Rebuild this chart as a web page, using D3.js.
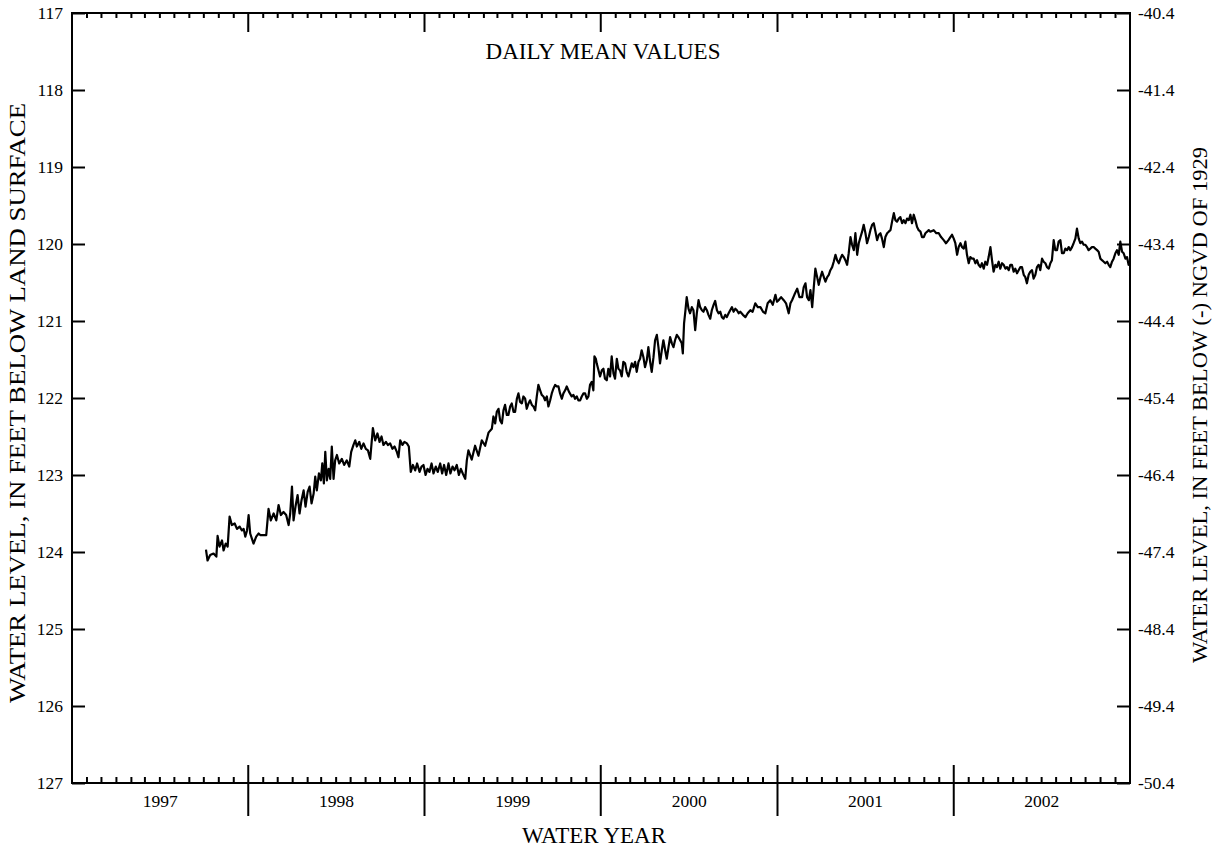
<!DOCTYPE html>
<html>
<head>
<meta charset="utf-8">
<script src="https://cdn.jsdelivr.net/npm/d3@7"></script>
<style>
  html, body { margin: 0; padding: 0; background: #fff; }
  svg { display: block; }
  svg text { font-family: "Liberation Serif", "Times New Roman", Times, serif; fill: #000; }
</style>
</head>
<body>
<svg id="chart" width="1217" height="850"></svg>
<script>
// Depth-to-water ticks (feet below land surface) and the matching altitude labels
const depthTicks = [117, 118, 119, 120, 121, 122, 123, 124, 125, 126, 127];
const altitudeTickLabels = ["-40.4", "-41.4", "-42.4", "-43.4", "-44.4", "-45.4",
                            "-46.4", "-47.4", "-48.4", "-49.4", "-50.4"];
const waterYears = ["1997", "1998", "1999", "2000", "2001", "2002"];

// Daily mean water levels, [decimal year, feet below land surface], by water year
const wy1997 = [[1997.508,123.97],[1997.517,124.11],[1997.532,124.04],[1997.551,124.02],[1997.567,124.06],[1997.574,123.79],[1997.585,123.93],[1997.599,123.85],[1997.608,123.98],[1997.620,123.89],[1997.631,123.93],[1997.642,123.54],[1997.655,123.65],[1997.671,123.63],[1997.684,123.70],[1997.699,123.67],[1997.712,123.72],[1997.722,123.70],[1997.731,123.80],[1997.741,123.72]];

const wy1998 = [[1997.750,123.52],[1997.759,123.76],[1997.769,123.83],[1997.778,123.89],[1997.793,123.80],[1997.807,123.76],[1997.816,123.78],[1997.850,123.78],[1997.863,123.44],[1997.876,123.59],[1997.892,123.50],[1997.907,123.59],[1997.920,123.39],[1997.933,123.52],[1997.948,123.48],[1997.963,123.52],[1997.977,123.65],[1997.986,123.50],[1997.996,123.15],[1998.005,123.59],[1998.016,123.41],[1998.028,123.26],[1998.039,123.50],[1998.050,123.33],[1998.062,123.20],[1998.073,123.41],[1998.085,123.22],[1998.096,123.15],[1998.107,123.37],[1998.119,123.24],[1998.128,123.02],[1998.137,123.20],[1998.149,122.98],[1998.160,123.07],[1998.168,122.85],[1998.177,123.11],[1998.185,122.70],[1998.194,123.07],[1998.204,122.92],[1998.213,123.05],[1998.222,122.63],[1998.232,123.05],[1998.241,122.81],[1998.251,122.74],[1998.264,122.85],[1998.279,122.79],[1998.292,122.87],[1998.307,122.81],[1998.321,122.89],[1998.332,122.70],[1998.345,122.61],[1998.355,122.55],[1998.364,122.63],[1998.378,122.57],[1998.389,122.66],[1998.402,122.59],[1998.415,122.66],[1998.427,122.68],[1998.440,122.79],[1998.455,122.39],[1998.468,122.55],[1998.481,122.46],[1998.493,122.57],[1998.504,122.50],[1998.515,122.61],[1998.529,122.57],[1998.540,122.61],[1998.553,122.59],[1998.566,122.66],[1998.578,122.63],[1998.591,122.70],[1998.600,122.77],[1998.610,122.55],[1998.623,122.61],[1998.634,122.57],[1998.648,122.59],[1998.659,122.63],[1998.670,122.96],[1998.682,122.87],[1998.695,122.94],[1998.706,122.85],[1998.720,122.96],[1998.731,122.89],[1998.742,122.87]];

const wy1999 = [[1998.754,123.00],[1998.765,122.92],[1998.776,122.96],[1998.788,122.85],[1998.799,122.98],[1998.812,122.89],[1998.823,122.96],[1998.837,122.85],[1998.848,122.98],[1998.859,122.87],[1998.871,123.00],[1998.884,122.85],[1998.895,122.98],[1998.907,122.89],[1998.918,122.94],[1998.931,122.87],[1998.943,123.00],[1998.954,122.92],[1998.965,122.98],[1998.979,123.05],[1998.988,122.81],[1998.997,122.68],[1999.016,122.80],[1999.035,122.62],[1999.054,122.75],[1999.073,122.55],[1999.092,122.62],[1999.111,122.45],[1999.130,122.40],[1999.139,122.24],[1999.149,122.33],[1999.158,122.18],[1999.168,122.14],[1999.177,122.29],[1999.187,122.33],[1999.196,122.16],[1999.205,122.09],[1999.215,122.22],[1999.224,122.22],[1999.234,122.11],[1999.243,122.07],[1999.253,122.18],[1999.262,122.18],[1999.272,122.01],[1999.281,121.94],[1999.290,122.05],[1999.300,122.07],[1999.309,121.98],[1999.319,122.01],[1999.328,122.14],[1999.338,122.07],[1999.347,122.03],[1999.357,122.09],[1999.366,122.11],[1999.376,122.16],[1999.385,121.98],[1999.394,121.83],[1999.404,121.90],[1999.413,121.96],[1999.423,121.98],[1999.432,122.03],[1999.442,121.98],[1999.451,122.11],[1999.461,122.03],[1999.470,121.94],[1999.479,121.88],[1999.489,121.83],[1999.498,121.85],[1999.508,121.85],[1999.517,121.94],[1999.527,122.01],[1999.536,121.94],[1999.546,121.90],[1999.555,121.85],[1999.568,121.92],[1999.583,121.98],[1999.593,121.96],[1999.602,122.01],[1999.612,121.98],[1999.621,122.03],[1999.631,122.03],[1999.640,121.98],[1999.650,121.94],[1999.659,121.94],[1999.669,122.01],[1999.678,121.98],[1999.687,121.83],[1999.697,121.79],[1999.706,121.90],[1999.712,121.46],[1999.720,121.49],[1999.725,121.55],[1999.735,121.64],[1999.744,121.72]];

const wy2000 = [[1999.754,121.64],[1999.763,121.62],[1999.772,121.75],[1999.782,121.77],[1999.791,121.62],[1999.801,121.72],[1999.810,121.46],[1999.820,121.68],[1999.829,121.75],[1999.839,121.49],[1999.848,121.62],[1999.857,121.64],[1999.867,121.72],[1999.876,121.53],[1999.886,121.55],[1999.895,121.66],[1999.905,121.72],[1999.914,121.64],[1999.924,121.55],[1999.933,121.60],[1999.943,121.53],[1999.952,121.66],[1999.962,121.53],[1999.971,121.49],[1999.980,121.38],[1999.990,121.47],[1999.999,121.60],[2000.009,121.51],[2000.018,121.34],[2000.028,121.53],[2000.037,121.66],[2000.047,121.47],[2000.056,121.25],[2000.066,121.18],[2000.075,121.34],[2000.084,121.55],[2000.094,121.38],[2000.103,121.25],[2000.113,121.38],[2000.122,121.49],[2000.132,121.34],[2000.141,121.21],[2000.151,121.29],[2000.160,121.34],[2000.169,121.25],[2000.179,121.18],[2000.188,121.21],[2000.198,121.25],[2000.207,121.29],[2000.213,121.42],[2000.220,121.03],[2000.228,120.86],[2000.235,120.69],[2000.245,120.84],[2000.254,120.90],[2000.264,120.82],[2000.273,120.86],[2000.283,121.12],[2000.292,120.90],[2000.302,120.73],[2000.311,120.82],[2000.321,120.86],[2000.330,120.88],[2000.339,120.82],[2000.349,120.86],[2000.358,120.92],[2000.368,120.97],[2000.377,120.86],[2000.387,120.79],[2000.396,120.74],[2000.406,120.86],[2000.415,120.90],[2000.425,120.88],[2000.434,120.95],[2000.443,120.97],[2000.453,120.92],[2000.462,120.95],[2000.472,120.90],[2000.481,120.86],[2000.491,120.82],[2000.500,120.88],[2000.510,120.84],[2000.519,120.86],[2000.529,120.90],[2000.538,120.88],[2000.553,120.92],[2000.567,120.95],[2000.580,120.90],[2000.595,120.86],[2000.608,120.88],[2000.623,120.77],[2000.637,120.82],[2000.652,120.82],[2000.667,120.88],[2000.680,120.90],[2000.693,120.77],[2000.708,120.73],[2000.722,120.79],[2000.737,120.66]];

const wy2001 = [[2000.746,120.75],[2000.755,120.73],[2000.769,120.69],[2000.784,120.73],[2000.797,120.77],[2000.812,120.90],[2000.822,120.77],[2000.831,120.73],[2000.844,120.66],[2000.860,120.58],[2000.873,120.69],[2000.888,120.69],[2000.897,120.56],[2000.907,120.51],[2000.916,120.69],[2000.926,120.73],[2000.935,120.60],[2000.945,120.82],[2000.954,120.56],[2000.963,120.32],[2000.973,120.43],[2000.982,120.53],[2000.992,120.43],[2001.001,120.36],[2001.011,120.43],[2001.020,120.49],[2001.030,120.43],[2001.039,120.40],[2001.048,120.34],[2001.058,120.30],[2001.067,120.23],[2001.077,120.14],[2001.086,120.21],[2001.096,120.25],[2001.105,120.19],[2001.115,120.14],[2001.124,120.17],[2001.133,120.21],[2001.143,120.27],[2001.152,120.12],[2001.162,119.91],[2001.171,120.01],[2001.181,120.08],[2001.190,119.86],[2001.200,120.14],[2001.209,119.99],[2001.219,119.91],[2001.228,119.84],[2001.237,119.75],[2001.247,119.86],[2001.256,119.99],[2001.266,119.91],[2001.275,119.82],[2001.285,119.75],[2001.294,119.73],[2001.304,119.84],[2001.313,119.95],[2001.323,119.88],[2001.332,119.86],[2001.341,119.93],[2001.351,120.04],[2001.360,119.91],[2001.370,119.86],[2001.379,119.84],[2001.389,119.82],[2001.398,119.71],[2001.408,119.60],[2001.417,119.69],[2001.426,119.71],[2001.436,119.67],[2001.445,119.65],[2001.455,119.73],[2001.464,119.69],[2001.474,119.73],[2001.483,119.67],[2001.493,119.69],[2001.502,119.62],[2001.511,119.73],[2001.521,119.62],[2001.530,119.69],[2001.540,119.78],[2001.549,119.82],[2001.559,119.84],[2001.568,119.91],[2001.578,119.91],[2001.587,119.86],[2001.597,119.84],[2001.606,119.82],[2001.615,119.84],[2001.634,119.82],[2001.649,119.86],[2001.663,119.86],[2001.676,119.91],[2001.691,119.95],[2001.704,119.99],[2001.718,119.95],[2001.729,119.91],[2001.738,119.88],[2001.748,119.93]];

const wy2002 = [[2001.757,119.99],[2001.767,120.14],[2001.776,120.04],[2001.786,119.99],[2001.795,120.04],[2001.805,120.06],[2001.814,119.97],[2001.823,120.14],[2001.833,120.25],[2001.842,120.17],[2001.852,120.19],[2001.861,120.19],[2001.871,120.25],[2001.880,120.21],[2001.889,120.27],[2001.899,120.30],[2001.908,120.25],[2001.918,120.32],[2001.927,120.23],[2001.937,120.27],[2001.946,120.17],[2001.956,120.04],[2001.965,120.21],[2001.974,120.36],[2001.984,120.27],[2001.993,120.30],[2002.003,120.23],[2002.012,120.32],[2002.022,120.25],[2002.031,120.27],[2002.041,120.32],[2002.050,120.30],[2002.060,120.34],[2002.069,120.27],[2002.078,120.27],[2002.088,120.36],[2002.097,120.32],[2002.107,120.38],[2002.116,120.34],[2002.126,120.30],[2002.135,120.30],[2002.145,120.40],[2002.154,120.43],[2002.163,120.51],[2002.173,120.40],[2002.182,120.36],[2002.192,120.34],[2002.201,120.45],[2002.211,120.40],[2002.220,120.30],[2002.230,120.27],[2002.239,120.34],[2002.249,120.19],[2002.258,120.23],[2002.268,120.25],[2002.277,120.30],[2002.287,120.32],[2002.296,120.25],[2002.305,120.21],[2002.315,119.95],[2002.324,120.08],[2002.334,120.08],[2002.343,119.97],[2002.353,119.95],[2002.362,120.12],[2002.372,120.12],[2002.381,120.06],[2002.391,120.08],[2002.400,120.04],[2002.409,120.08],[2002.419,120.04],[2002.428,119.99],[2002.438,119.93],[2002.447,119.80],[2002.457,119.93],[2002.466,119.99],[2002.476,119.97],[2002.485,120.01],[2002.495,120.01],[2002.504,120.04],[2002.513,120.08],[2002.523,120.06],[2002.532,120.04],[2002.542,120.04],[2002.551,120.06],[2002.561,120.08],[2002.570,120.10],[2002.580,120.19],[2002.589,120.21],[2002.599,120.23],[2002.608,120.25],[2002.618,120.23],[2002.627,120.27],[2002.636,120.30],[2002.646,120.23],[2002.655,120.19],[2002.665,120.12],[2002.674,120.08],[2002.684,120.14],[2002.693,119.97],[2002.703,120.10],[2002.712,120.12],[2002.722,120.19],[2002.731,120.17],[2002.740,120.27],[2002.746,120.23]];

// ---------------------------------------------------------------------------
const svg = d3.select("#chart");
const plot = { left: 72, right: 1130, top: 13, bottom: 783 };
const serif = '"Liberation Serif", "Times New Roman", Times, serif';
const tickFont = 17.5;

function decimalYearToDate(t) {
  const yr = Math.floor(t);
  const a = Date.UTC(yr, 0, 1), b = Date.UTC(yr + 1, 0, 1);
  return new Date(a + (t - yr) * (b - a));
}

const record = [].concat(wy1997, wy1998, wy1999, wy2000, wy2001, wy2002)
  .map(([t, v]) => ({ date: decimalYearToDate(t), level: v }));

const firstYear = +waterYears[0];
const lastYear = +waterYears[waterYears.length - 1];
const x = d3.scaleUtc()
  .domain([new Date(Date.UTC(firstYear - 1, 9, 1)), new Date(Date.UTC(lastYear, 9, 1))])
  .range([plot.left, plot.right]);

const y = d3.scaleLinear()
  .domain([depthTicks[0], depthTicks[depthTicks.length - 1]])
  .range([plot.top, plot.bottom]);

svg.append("rect").attr("width", 1217).attr("height", 850).attr("fill", "#fff");

// Month and water-year tick positions
const months = d3.utcMonth.range(x.domain()[0], x.domain()[1]).slice(1);
const yearStarts = months.filter(d => d.getUTCMonth() === 9);
const minorMonths = months.filter(d => d.getUTCMonth() !== 9);

const g = svg.append("g").attr("stroke", "#000").attr("fill", "none").attr("stroke-width", 2);

// Minor month ticks on top and bottom (inside the frame)
g.selectAll(".mt").data(minorMonths).join("line")
  .attr("x1", d => x(d)).attr("x2", d => x(d))
  .attr("y1", plot.top).attr("y2", plot.top + 5);
g.selectAll(".mb").data(minorMonths).join("line")
  .attr("x1", d => x(d)).attr("x2", d => x(d))
  .attr("y1", plot.bottom).attr("y2", plot.bottom - 6);

// Water-year boundaries
g.selectAll(".yt").data(yearStarts).join("line")
  .attr("x1", d => x(d)).attr("x2", d => x(d))
  .attr("y1", plot.top).attr("y2", plot.top + 19);
g.selectAll(".yb").data(yearStarts).join("line")
  .attr("x1", d => x(d)).attr("x2", d => x(d))
  .attr("y1", plot.bottom - 18).attr("y2", plot.bottom + 33);

// Left axis: depth below land surface
const leftAxis = d3.axisLeft(y).tickValues(depthTicks).tickSize(-13).tickSizeOuter(0).tickPadding(9)
  .tickFormat(d3.format("d"));
const gl = svg.append("g").attr("transform", `translate(${plot.left},0)`).call(leftAxis);
gl.attr("font-family", serif).attr("font-size", tickFont);
gl.select(".domain").remove();
gl.selectAll(".tick line").attr("stroke-width", 2);
gl.selectAll(".tick text").attr("fill", "#000");

// Right axis: altitude, NGVD of 1929
const rightAxis = d3.axisRight(y).tickValues(depthTicks).tickSize(-13).tickSizeOuter(0).tickPadding(8)
  .tickFormat((d, i) => altitudeTickLabels[i]);
const gr = svg.append("g").attr("transform", `translate(${plot.right},0)`).call(rightAxis);
gr.attr("font-family", serif).attr("font-size", tickFont);
gr.select(".domain").remove();
gr.selectAll(".tick line").attr("stroke-width", 2);
gr.selectAll(".tick text").attr("fill", "#000");

// Frame
svg.append("rect")
  .attr("x", plot.left).attr("y", plot.top)
  .attr("width", plot.right - plot.left).attr("height", plot.bottom - plot.top)
  .attr("fill", "none").attr("stroke", "#000").attr("stroke-width", 2);

// Water-year labels centred in each year
const yearBounds = [x.domain()[0]].concat(yearStarts, [x.domain()[1]]);
svg.append("g").selectAll("text").data(waterYears).join("text")
  .attr("x", (d, i) => (x(yearBounds[i]) + x(yearBounds[i + 1])) / 2)
  .attr("y", 807)
  .attr("text-anchor", "middle")
  .attr("font-family", serif)
  .attr("font-size", tickFont)
  .text(d => d);

// Hydrograph
const line = d3.line().x(d => x(d.date)).y(d => y(d.level));
svg.append("path")
  .datum(record)
  .attr("d", line)
  .attr("fill", "none")
  .attr("stroke", "#000")
  .attr("stroke-width", 2.2)
  .attr("stroke-linejoin", "round");

// Titles
svg.append("text").attr("x", 603).attr("y", 59).attr("text-anchor", "middle")
  .attr("font-family", serif).attr("font-size", 23).text("DAILY MEAN VALUES");
svg.append("text").attr("x", 594).attr("y", 843).attr("text-anchor", "middle")
  .attr("font-family", serif).attr("font-size", 23).text("WATER YEAR");
svg.append("text").attr("transform", "translate(25,403) rotate(-90)").attr("text-anchor", "middle")
  .attr("font-family", serif).attr("font-size", 23)
  .attr("textLength", 600).attr("lengthAdjust", "spacingAndGlyphs")
  .text("WATER LEVEL, IN FEET BELOW LAND SURFACE");
svg.append("text").attr("transform", "translate(1207,405) rotate(-90)").attr("text-anchor", "middle")
  .attr("font-family", serif).attr("font-size", 20)
  .attr("textLength", 516).attr("lengthAdjust", "spacingAndGlyphs")
  .text("WATER LEVEL, IN FEET BELOW (-) NGVD OF 1929");
</script>
</body>
</html>
